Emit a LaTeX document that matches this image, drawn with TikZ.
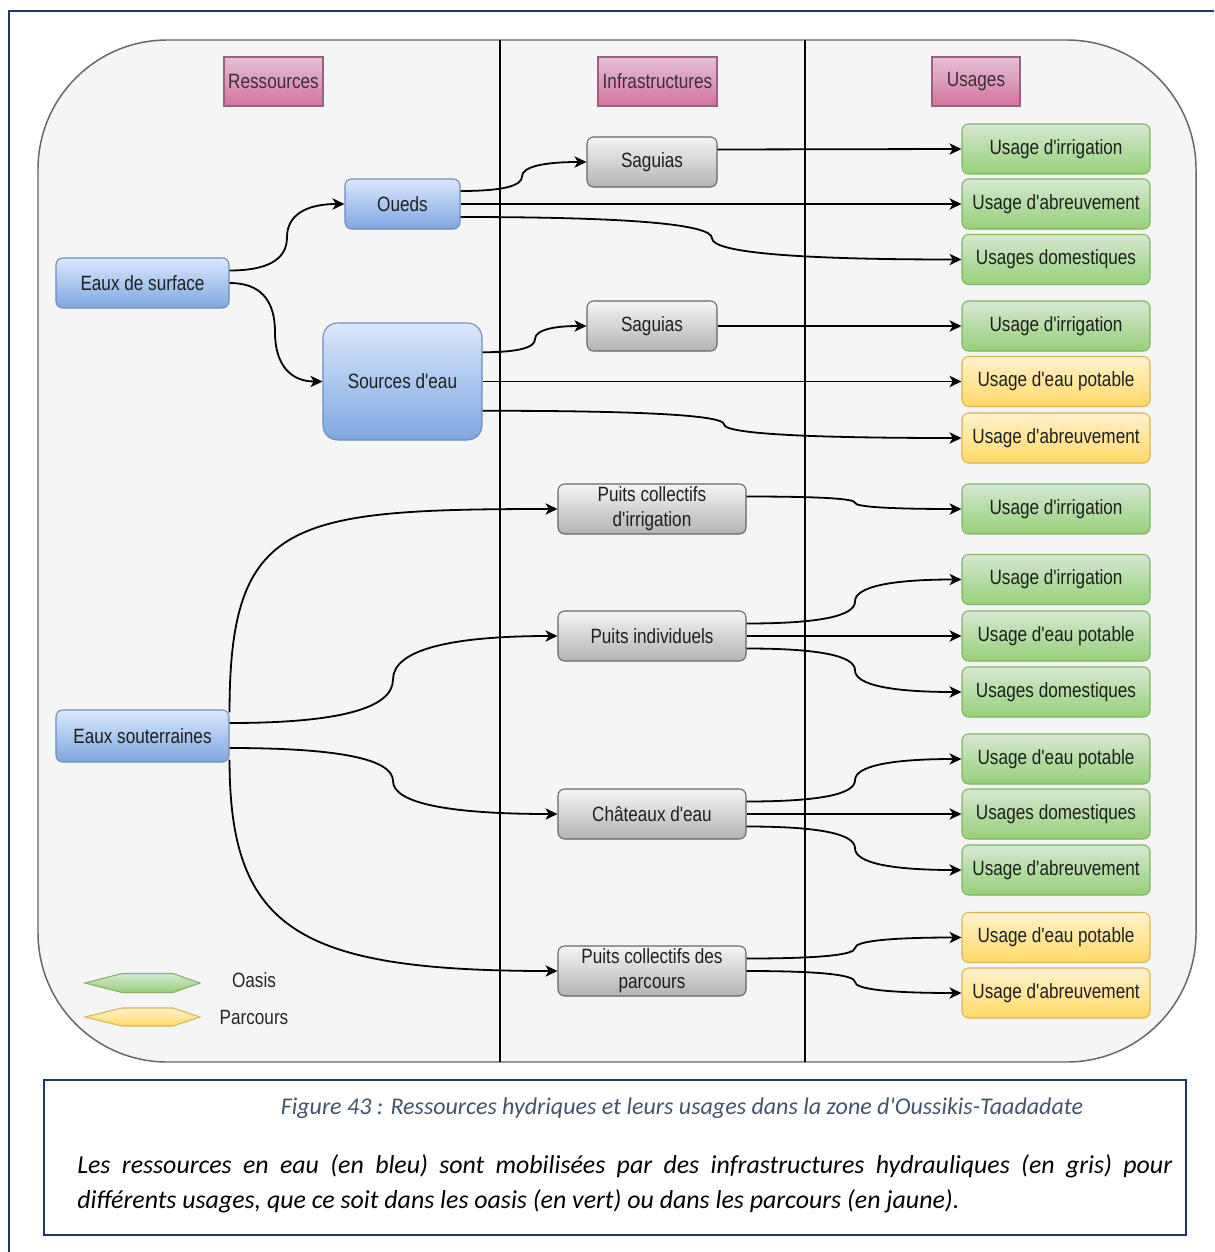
\documentclass[tikz,border=0pt]{standalone}
\usepackage{fontspec}
\setmainfont{Liberation Sans}
\newfontfamily\diagfont[FakeStretch=0.83,Ligatures=TeXOff]{Liberation Sans}
\newfontfamily\notefont[Ligatures=TeXOff]{Carlito}
\usetikzlibrary{arrows.meta,calc}

\definecolor{framenavy}{HTML}{203864}
\definecolor{panelfill}{HTML}{F5F5F5}
\definecolor{panelline}{HTML}{666666}
\definecolor{pinktop}{HTML}{E6C0D6}
\definecolor{pinkbot}{HTML}{D5739D}
\definecolor{pinkline}{HTML}{996185}
\definecolor{bluetop}{HTML}{DAE8FC}
\definecolor{bluebot}{HTML}{7EA6E0}
\definecolor{blueline}{HTML}{6C8EBF}
\definecolor{graytop}{HTML}{F5F5F5}
\definecolor{graybot}{HTML}{B3B3B3}
\definecolor{grayline}{HTML}{666666}
\definecolor{greentop}{HTML}{D5E8D4}
\definecolor{greenbot}{HTML}{97D077}
\definecolor{greenline}{HTML}{82B366}
\definecolor{yellowtop}{HTML}{FFF2CC}
\definecolor{yellowbot}{HTML}{FFD966}
\definecolor{yellowline}{HTML}{D6B656}
\definecolor{captiontext}{HTML}{44546A}

\tikzset{
  sz/.style 2 args={minimum width=#1*0.75pt, minimum height=#2*0.75pt},
  box/.style={rounded corners=5pt, line width=0.8pt, inner sep=0pt, align=center,
    font=\diagfont\fontsize{15.5}{18.75}\selectfont, text=black!88},
  header/.style={box, rounded corners=0pt, top color=pinktop, bottom color=pinkbot, draw=pinkline, text=black!80},
  resource/.style={box, top color=bluetop, bottom color=bluebot, draw=blueline},
  infra/.style={box, top color=graytop, bottom color=graybot, draw=grayline},
  oasis/.style={box, top color=greentop, bottom color=greenbot, draw=greenline},
  parcours/.style={box, top color=yellowtop, bottom color=yellowbot, draw=yellowline},
  flow/.style={line width=1.35pt, -{Stealth[length=9pt,width=8.5pt,inset=2.5pt]}},
  % orthogonal route rounded into two quadratic pieces, bending at x = #1
  sbend/.style={to path={
    let \p1=(\tikztostart), \p2=(\tikztotarget), \n1={#1*0.75pt}, \n2={(\y1+\y2)/2} in
    .. controls ({\x1+2/3*(\n1-\x1)},\y1) and (\n1,{\n2+2/3*(\y1-\n2)}) .. (\n1,\n2)
    .. controls (\n1,{\n2+2/3*(\y2-\n2)}) and ({\x2+2/3*(\n1-\x2)},\y2) .. (\tikztotarget)}},
}

\begin{document}
\begin{tikzpicture}[x=0.75pt,y=-0.75pt]
\useasboundingbox (0,0) rectangle (1214,1252);
\fill[white] (0,0) rectangle (1214,1252);

% page frame
\draw[framenavy,line width=2.2pt] (9,1252) -- (9,11) -- (1214,11);

% rounded panel and column separators
\draw[panelline,fill=panelfill,line width=1.1pt,rounded corners=97pt] (38,40) rectangle (1196,1062);
\draw[black,line width=0.9pt] (500,40) -- (500,1062) (805,40) -- (805,1062);

% column headers
\node[header,sz={99}{49}]  (hres) at (273.5,81.5) {Ressources};
\node[header,sz={119}{49}] (hinf) at (657.5,81.5) {Infrastructures};
\node[header,sz={88}{49}]  (husa) at (976,81.5)   {Usages};

% resources
\node[resource,sz={173}{50}] (eds) at (142.5,283) {Eaux de surface};
\node[resource,sz={115}{50}] (oue) at (402.5,204) {Oueds};
\node[resource,sz={159}{117},rounded corners=11pt] (src) at (402.5,381.5) {Sources d'eau};
\node[resource,sz={173}{52}] (eso) at (142.5,736) {Eaux souterraines};

% infrastructures
\node[infra,sz={130}{50}] (sag1) at (652,162) {Saguias};
\node[infra,sz={130}{50}] (sag2) at (652,326) {Saguias};
\node[infra,sz={188}{50}] (pci)  at (652,509) {Puits collectifs\\d'irrigation};
\node[infra,sz={188}{50}] (pin)  at (652,636) {Puits individuels};
\node[infra,sz={188}{50}] (cha)  at (652,814) {Châteaux d'eau};
\node[infra,sz={188}{50}] (pcp)  at (652,971) {Puits collectifs des\\parcours};

% uses
\node[oasis,sz={188}{50}]    (u1)  at (1056,149)   {Usage d'irrigation};
\node[oasis,sz={188}{50}]    (u2)  at (1056,204)   {Usage d'abreuvement};
\node[oasis,sz={188}{50}]    (u3)  at (1056,259.5) {Usages domestiques};
\node[oasis,sz={188}{50}]    (u4)  at (1056,326)   {Usage d'irrigation};
\node[parcours,sz={188}{50}] (u5)  at (1056,381.5) {Usage d'eau potable};
\node[parcours,sz={188}{50}] (u6)  at (1056,438)   {Usage d'abreuvement};
\node[oasis,sz={188}{50}]    (u7)  at (1056,509)   {Usage d'irrigation};
\node[oasis,sz={188}{50}]    (u8)  at (1056,579.5) {Usage d'irrigation};
\node[oasis,sz={188}{50}]    (u9)  at (1056,636)   {Usage d'eau potable};
\node[oasis,sz={188}{50}]    (u10) at (1056,692)   {Usages domestiques};
\node[oasis,sz={188}{50}]    (u11) at (1056,759)   {Usage d'eau potable};
\node[oasis,sz={188}{50}]    (u12) at (1056,814)   {Usages domestiques};
\node[oasis,sz={188}{50}]    (u13) at (1056,870)   {Usage d'abreuvement};
\node[parcours,sz={188}{50}] (u14) at (1056,937.5) {Usage d'eau potable};
\node[parcours,sz={188}{50}] (u15) at (1056,993)   {Usage d'abreuvement};

% surface water
\draw[flow] ($(eds.east)+(0,-12.5)$) to[sbend=287] (oue.west);
\draw[flow] (eds.east) to[sbend=275] (src.west);
\draw[flow] ($(oue.east)+(0,-13)$) to[sbend=522] (sag1.west);
\draw[flow] (oue.east) -- (u2.west);
\draw[flow] ($(oue.east)+(0,13)$) to[sbend=712] (u3.west);
\draw[flow] ($(sag1.east)+(0,-12.5)$) -- (u1.west);
\draw[flow] ($(src.east)+(0,-29.25)$) to[sbend=535] (sag2.west);
\draw[flow] (src.east) -- (u5.west);
\draw[flow] ($(src.east)+(0,29.25)$) to[sbend=724] (u6.west);
\draw[flow] (sag2.east) -- (u4.west);

% groundwater
\draw[flow] ($(eso.north east)+(0,3)$) .. controls +(0,-193) and +(-268,0) .. (pci.west);
\draw[flow] ($(eso.east)+(0,-13)$) to[sbend=393] (pin.west);
\draw[flow] ($(eso.east)+(0,12)$) to[sbend=393] (cha.west);
\draw[flow] ($(eso.south east)+(0,-3)$) .. controls +(0,171) and +(-258,0) .. (pcp.west);

% groundwater infrastructures to uses
\draw[flow] ($(pci.east)+(0,-12.5)$) to[sbend=855] (u7.west);
\draw[flow] ($(pin.east)+(0,-12.5)$) to[sbend=855] (u8.west);
\draw[flow] (pin.east) -- (u9.west);
\draw[flow] ($(pin.east)+(0,12.5)$) to[sbend=855] (u10.west);
\draw[flow] ($(cha.east)+(0,-12.5)$) to[sbend=855] (u11.west);
\draw[flow] (cha.east) -- (u12.west);
\draw[flow] ($(cha.east)+(0,12.5)$) to[sbend=855] (u13.west);
\draw[flow] ($(pcp.east)+(0,-12.5)$) to[sbend=855] (u14.west);
\draw[flow] (pcp.east) to[sbend=855] (u15.west);

% legend
\shade[top color=greentop,bottom color=greenbot,draw=greenline,line width=0.8pt]
  (85,983) -- (122,973.5) -- (173,973.5) -- (200,983) -- (173,992.5) -- (122,992.5) -- cycle;
\shade[top color=yellowtop,bottom color=yellowbot,draw=yellowline,line width=0.8pt]
  (85,1017) -- (122,1008) -- (173,1008) -- (200,1017) -- (173,1026) -- (122,1026) -- cycle;
\node[font=\diagfont\fontsize{15.5}{18}\selectfont,text=black!85] (loasis) at (254,980) {Oasis};
\node[font=\diagfont\fontsize{15.5}{18}\selectfont,text=black!85] (lparc) at (254,1017) {Parcours};

% caption block
\draw[framenavy,line width=1.8pt,fill=white] (44,1080) rectangle (1186,1235);
\node[font=\notefont\itshape\fontsize{18}{21}\selectfont,text=captiontext] (fig) at (682,1108)
  {Figure 43 : Ressources hydriques et leurs usages dans la zone d'Oussikis-Taadadate};
\node[anchor=base west,inner sep=0pt,font=\notefont\itshape\fontsize{19.4}{23}\selectfont] (line1) at (77,1173)
  {\makebox[821.25pt][s]{Les ressources en eau (en bleu) sont mobilisées par des infrastructures hydrauliques (en gris) pour}};
\node[anchor=base west,inner sep=0pt,font=\notefont\itshape\fontsize{19.4}{23}\selectfont] (line2) at (77,1208)
  {différents usages, que ce soit dans les oasis (en vert) ou dans les parcours (en jaune).};
\end{tikzpicture}
\end{document}
